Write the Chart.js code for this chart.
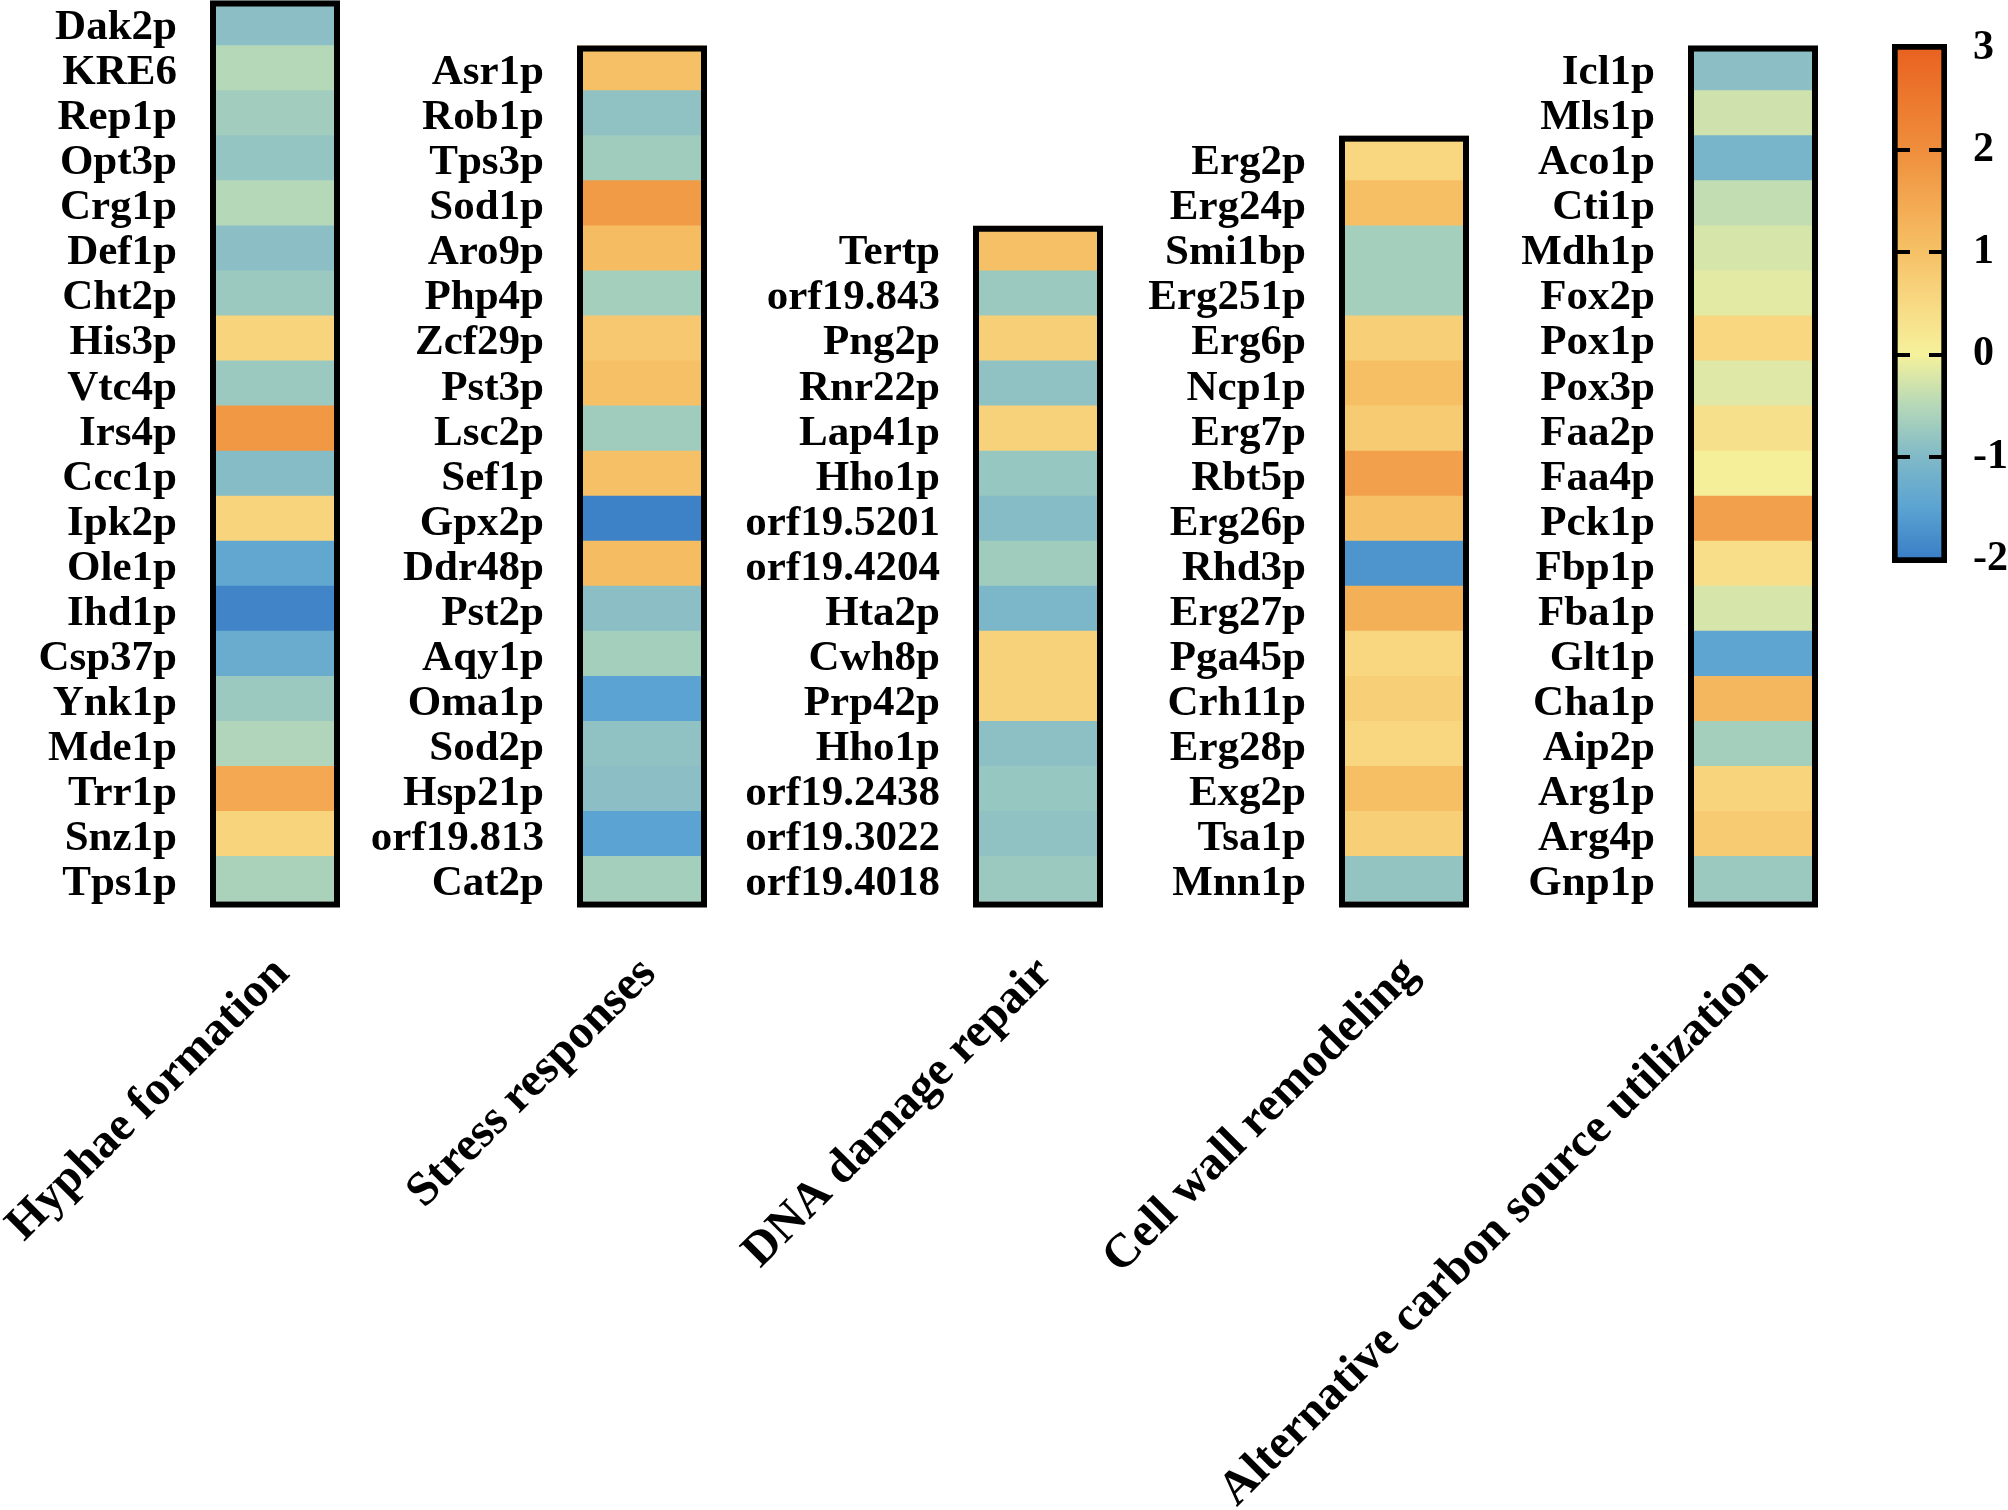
<!DOCTYPE html>
<html>
<head>
<meta charset="utf-8">
<script src="https://cdn.jsdelivr.net/npm/chart.js@4.4.0/dist/chart.umd.min.js"></script>
<style>
    html, body { margin: 0; padding: 0; background: #fff; }
    #page { position: relative; width: 2008px; height: 1510px; overflow: hidden; }
    #page canvas { position: absolute; }
</style>
</head>
<body>
<div id="page"></div>
<script>
const groupNames = ['Hyphae formation', 'Stress responses', 'DNA damage repair',
    'Cell wall remodeling', 'Alternative carbon source utilization'];

const hyphaeGenes = ['Dak2p', 'KRE6', 'Rep1p', 'Opt3p', 'Crg1p', 'Def1p', 'Cht2p', 'His3p', 'Vtc4p', 'Irs4p',
    'Ccc1p', 'Ipk2p', 'Ole1p', 'Ihd1p', 'Csp37p', 'Ynk1p', 'Mde1p', 'Trr1p', 'Snz1p', 'Tps1p'];
const hyphaeValues = [-0.9, -0.5, -0.68, -0.8, -0.5, -0.9, -0.75, 0.6, -0.75, 1.8,
    -0.95, 0.6, -1.4, -1.9, -1.3, -0.75, -0.55, 1.5, 0.6, -0.6];

const stressGenes = ['Asr1p', 'Rob1p', 'Tps3p', 'Sod1p', 'Aro9p', 'Php4p', 'Zcf29p', 'Pst3p', 'Lsc2p', 'Sef1p',
    'Gpx2p', 'Ddr48p', 'Pst2p', 'Aqy1p', 'Oma1p', 'Sod2p', 'Hsp21p', 'orf19.813', 'Cat2p'];
const stressValues = [1.0, -0.85, -0.7, 1.75, 1.1, -0.65, 0.85, 1.0, -0.7, 1.0,
    -1.95, 1.1, -0.9, -0.65, -1.5, -0.85, -0.9, -1.5, -0.65];

const dnaGenes = ['Tertp', 'orf19.843', 'Png2p', 'Rnr22p', 'Lap41p', 'Hho1p', 'orf19.5201', 'orf19.4204',
    'Hta2p', 'Cwh8p', 'Prp42p', 'Hho1p', 'orf19.2438', 'orf19.3022', 'orf19.4018'];
const dnaValues = [1.0, -0.75, 0.7, -0.85, 0.65, -0.78, -0.95, -0.7,
    -1.05, 0.65, 0.65, -0.88, -0.78, -0.85, -0.75];

const wallGenes = ['Erg2p', 'Erg24p', 'Smi1bp', 'Erg251p', 'Erg6p', 'Ncp1p', 'Erg7p', 'Rbt5p', 'Erg26p',
    'Rhd3p', 'Erg27p', 'Pga45p', 'Crh11p', 'Erg28p', 'Exg2p', 'Tsa1p', 'Mnn1p'];
const wallValues = [0.55, 1.05, -0.65, -0.65, 0.7, 1.05, 0.8, 1.65, 1.0,
    -1.7, 1.35, 0.55, 0.7, 0.55, 1.05, 0.7, -0.82];

const carbonGenes = ['Icl1p', 'Mls1p', 'Aco1p', 'Cti1p', 'Mdh1p', 'Fox2p', 'Pox1p', 'Pox3p', 'Faa2p', 'Faa4p',
    'Pck1p', 'Fbp1p', 'Fba1p', 'Glt1p', 'Cha1p', 'Aip2p', 'Arg1p', 'Arg4p', 'Gnp1p'];
const carbonValues = [-0.9, -0.3, -1.1, -0.4, -0.25, -0.15, 0.55, -0.18, 0.35, 0.05,
    1.65, 0.4, -0.25, -1.45, 1.2, -0.65, 0.6, 0.8, -0.75];

// colour scale
const cmapValues = [-2, -1.5, -1, -0.5, 0, 0.5, 1, 1.5, 2, 3];
const cmapColors = ['#3a7ec6', '#5ba3d2', '#80b9c8', '#b5d8b8', '#f6f19c',
    '#f8d983', '#f6c166', '#f3a851', '#ef8e3d', '#e9621f'];
const cbarTicks = [-2, -1, 0, 1, 2, 3];
const cbarMin = -2.04, cbarMax = 3.04;

// ---- layout ----
const ROW = 45.05, BOTTOM = 901.5;
const boxLeft = [210, 577, 973, 1339, 1688];
const BOX_W = 130;
const page = document.getElementById('page');

Chart.defaults.font.family = "'Liberation Serif', 'Times New Roman', serif";
Chart.defaults.font.weight = 'bold';
Chart.defaults.color = '#000';

function hexToRgb(h) {
    return [parseInt(h.substr(1, 2), 16), parseInt(h.substr(3, 2), 16), parseInt(h.substr(5, 2), 16)];
}

function colorFor(v) {
    if (v <= cmapValues[0]) return cmapColors[0];
    for (let i = 1; i < cmapValues.length; i++) {
        if (v <= cmapValues[i]) {
            const t = (v - cmapValues[i - 1]) / (cmapValues[i] - cmapValues[i - 1]);
            const a = hexToRgb(cmapColors[i - 1]), b = hexToRgb(cmapColors[i]);
            const c = a.map((x, k) => Math.round(x + (b[k] - x) * t));
            return `rgb(${c[0]}, ${c[1]}, ${c[2]})`;
        }
    }
    return cmapColors[cmapColors.length - 1];
}

function addCanvas(left, top, w, h) {
    const cv = document.createElement('canvas');
    cv.width = w; cv.height = h;
    cv.style.left = left + 'px'; cv.style.top = top + 'px';
    cv.style.width = w + 'px'; cv.style.height = h + 'px';
    page.appendChild(cv);
    return cv;
}

// black frame round the heat column
const frame = {
    id: 'frame',
    afterDatasetsDraw(chart) {
        const { ctx, chartArea: a } = chart;
        ctx.save();
        ctx.lineWidth = 6;
        ctx.strokeStyle = '#000';
        ctx.strokeRect(a.left + 3, a.top + 3, a.width - 6, a.height);
        ctx.restore();
    }
};

function makeColumn(i, genes, values) {
    const left = boxLeft[i];
    const rowsTop = BOTTOM - genes.length * ROW;
    const top = Math.floor(rowsTop) - 8;
    const H = 1515 - top;
    const W = left + BOX_W + 10;
    const cv = addCanvas(0, top, W, H);

    new Chart(cv, {
        type: 'bar',
        data: {
            labels: genes,
            datasets: [{
                data: genes.map(() => 1),
                backgroundColor: values.map(colorFor),
                borderWidth: 0,
                barPercentage: 1,
                categoryPercentage: 1
            }]
        },
        options: {
            indexAxis: 'y',
            responsive: false,
            animation: false,
            layout: { padding: { top: rowsTop - top, right: 10, left: 0, bottom: 0 } },
            plugins: { legend: { display: false }, tooltip: { enabled: false } },
            scales: {
                x: { display: false, min: 0, max: 1 },
                grp: {
                    type: 'category',
                    labels: [groupNames[i]],
                    position: 'bottom',
                    offset: true,
                    grid: { display: false, drawTicks: false },
                    border: { display: false },
                    ticks: { minRotation: 45, maxRotation: 45, padding: 48, labelOffset: 7,
                             autoSkip: false, font: { size: 48, lineHeight: 1 } },
                    afterFit(s) { s.height = top + H - BOTTOM; s.paddingLeft = 0; s.paddingRight = 0; }
                },
                y: {
                    grid: { display: false, drawTicks: false },
                    border: { display: false },
                    ticks: { autoSkip: false, padding: 33, labelOffset: 5, font: { size: 43, lineHeight: 1 } },
                    afterFit(s) { s.width = left; s.paddingTop = 0; s.paddingBottom = 0; }
                }
            }
        },
        plugins: [frame]
    });
}

makeColumn(0, hyphaeGenes, hyphaeValues);
makeColumn(1, stressGenes, stressValues);
makeColumn(2, dnaGenes, dnaValues);
makeColumn(3, wallGenes, wallValues);
makeColumn(4, carbonGenes, carbonValues);

// ---- colour bar ----
const cbarDashes = {
    id: 'cbarDashes',
    afterDatasetsDraw(chart) {
        const { ctx, chartArea: a, scales } = chart;
        ctx.save();
        ctx.lineWidth = 4;
        ctx.strokeStyle = '#000';
        cbarTicks.slice(1, -1).forEach(v => {
            const y = Math.round(scales.y.getPixelForValue(v));
            ctx.beginPath();
            ctx.moveTo(a.left + 5, y); ctx.lineTo(a.left + 18, y);
            ctx.moveTo(a.right - 18, y); ctx.lineTo(a.right - 5, y);
            ctx.stroke();
        });
        ctx.restore();
    }
};

const cbCanvas = addCanvas(1860, 0, 148, 610);
new Chart(cbCanvas, {
    type: 'bar',
    data: {
        labels: [''],
        datasets: [{
            data: [[cbarMin, cbarMax]],
            backgroundColor(c) {
                const chart = c.chart;
                if (!chart.chartArea) return null;
                const y = chart.scales.y;
                const g = chart.ctx.createLinearGradient(0, y.getPixelForValue(cbarMin), 0, y.getPixelForValue(cbarMax));
                cmapValues.forEach((v, k) => {
                    const t = (Math.min(Math.max(v, cbarMin), cbarMax) - cbarMin) / (cbarMax - cbarMin);
                    g.addColorStop(t, cmapColors[k]);
                });
                return g;
            },
            borderColor: '#000',
            borderWidth: 6,
            borderSkipped: false,
            barPercentage: 1,
            categoryPercentage: 1
        }]
    },
    options: {
        responsive: false,
        animation: false,
        layout: { padding: { left: 32, top: 44, bottom: 47, right: 0 } },
        plugins: { legend: { display: false }, tooltip: { enabled: false } },
        scales: {
            x: { display: false },
            y: {
                position: 'right',
                min: cbarMin,
                max: cbarMax,
                grid: { display: false, drawTicks: false },
                border: { display: false },
                ticks: { padding: 26, font: { size: 42, lineHeight: 1 } },
                afterBuildTicks(s) { s.ticks = cbarTicks.map(v => ({ value: v })); },
                afterFit(s) { s.width = 61; s.paddingTop = 0; s.paddingBottom = 0; }
            }
        }
    },
    plugins: [cbarDashes]
});
</script>
</body>
</html>
